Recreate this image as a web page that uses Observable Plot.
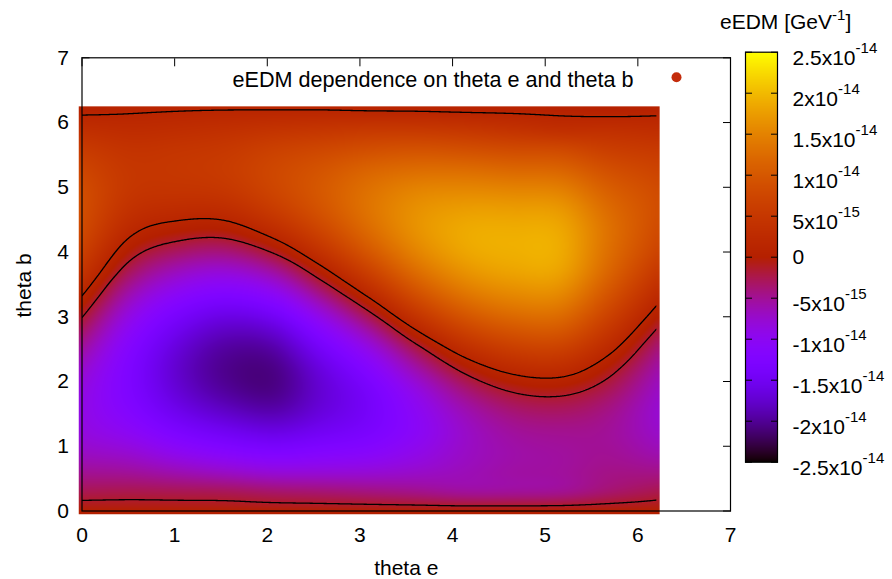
<!DOCTYPE html>
<html>
<head>
<meta charset="utf-8">
<script src="https://cdn.jsdelivr.net/npm/d3@7"></script>
<script src="https://cdn.jsdelivr.net/npm/@observablehq/plot@0.6"></script>
<style>
  html, body { margin: 0; padding: 0; background: #fff; }
  #wrap { position: relative; width: 892px; height: 579px; font-family: "Liberation Sans", Arial, sans-serif; color: #000; }
  #main { position: absolute; left: 0; top: 0; }
  #cb { position: absolute; left: 730px; top: 0; }
  #cbtitle { position: absolute; left: 720px; top: 10.5px; font-size: 21px; line-height: 21px; white-space: nowrap; }
  #cbtitle .sup { font-size: 15px; position: relative; top: -9px; }
  svg { overflow: visible; }
</style>
</head>
<body>
<div id="wrap">
  <div id="main"></div>
  <div id="cb"></div>
  <div id="cbtitle">eEDM [GeV<span class="sup">-1</span>]</div>
</div>
<script>
// ---- data ----
const thetaE = [0, 0.517, 1.033, 1.55, 2.067, 2.583, 3.1, 3.617, 4.133, 4.65, 5.167, 5.683, 6.2];
const thetaB = [0, 0.31, 0.62, 0.93, 1.24, 1.55, 1.86, 2.17, 2.48, 2.79, 3.1, 3.41, 3.72, 4.03, 4.34, 4.65, 4.96, 5.27, 5.58, 5.89, 6.2];
// eEDM in units of 1e-15 GeV^-1; one row per thetaE value, entries ordered by thetaB
const eEDM = [
  [0, -2.7, -5.1, -7.1, -8.4, -8.8, -8.5, -7.4, -5.5, -3.1, -0.5, 2.2, 4.7, 6.7, 8.1, 8.7, 8.5, 7.4, 5.7, 3.4, 0.7],
  [0, -2.6, -5.4, -8.0, -10.3, -11.9, -12.7, -12.7, -11.9, -10.3, -8.1, -5.5, -2.7, -0.1, 2.2, 3.9, 4.9, 5.0, 4.3, 2.8, 1.1],
  [0, -2.8, -6.4, -10.0, -13.1, -15.5, -17.0, -17.5, -16.9, -15.3, -12.9, -9.8, -6.4, -2.9, 0.2, 2.7, 4.4, 5.0, 4.6, 3.1, 1.3],
  [0, -3.0, -7.4, -11.6, -15.1, -17.9, -19.7, -20.3, -19.7, -17.9, -15.1, -11.5, -7.6, -3.6, 0.0, 2.9, 4.9, 5.7, 5.2, 3.6, 1.4],
  [0, -3.6, -8.3, -12.7, -16.3, -19.0, -20.5, -20.6, -19.4, -17.0, -13.5, -9.4, -5.1, -0.8, 2.9, 5.7, 7.3, 7.6, 6.6, 4.3, 1.4],
  [0, -3.9, -8.3, -12.0, -14.9, -16.7, -17.2, -16.5, -14.5, -11.5, -7.7, -3.5, 0.6, 4.4, 7.4, 9.4, 10.1, 9.5, 7.7, 4.8, 1.4],
  [0, -4.3, -8.1, -11.2, -13.3, -14.1, -13.7, -11.9, -9.1, -5.4, -1.2, 3.0, 6.9, 10.2, 12.4, 13.4, 13.1, 11.6, 8.8, 5.3, 1.2],
  [0, -4.7, -7.4, -9.3, -10.4, -10.1, -8.7, -6.0, -2.6, 1.5, 5.7, 9.6, 12.9, 15.3, 16.5, 16.4, 15.1, 12.6, 9.3, 5.3, 1.1],
  [0, -5.3, -6.5, -7.1, -7.2, -6.2, -4.0, -0.9, 2.8, 6.8, 10.7, 14.1, 16.7, 18.3, 18.6, 17.6, 15.5, 12.6, 8.9, 4.9, 0.9],
  [0, -5.2, -5.6, -5.8, -5.2, -3.7, -1.2, 2.1, 5.8, 9.6, 13.2, 16.1, 18.2, 19.1, 18.9, 17.6, 15.2, 12.0, 8.3, 4.2, 0.8],
  [0, -4.9, -5.3, -5.3, -4.7, -3.1, -0.7, 2.6, 6.2, 9.9, 13.2, 16.0, 18.0, 18.7, 18.4, 17.1, 14.7, 11.6, 8.0, 3.5, 0.6],
  [0, -3.6, -4.5, -5.0, -5.1, -4.4, -2.8, -0.6, 2.1, 4.9, 7.6, 10.0, 11.9, 12.9, 13.2, 12.5, 11.0, 8.9, 6.3, 3.5, 0.3],
  [0, -2.6, -4.6, -6.2, -7.2, -7.5, -6.9, -5.7, -3.9, -1.6, 0.9, 3.3, 5.5, 7.3, 8.3, 8.7, 8.3, 7.1, 5.4, 3.1, 0.7]
];
const contourLevels = [-1.45, 1.45];           // 1e-15 GeV^-1
const xTicks = [0, 1, 2, 3, 4, 5, 6, 7];
const yTicks = [0, 1, 2, 3, 4, 5, 6, 7];
const cbDomain = [-25, 25];                    // 1e-15 GeV^-1
const cbTicks = [-25, -20, -15, -10, -5, 0, 5, 10, 15, 20, 25];
const cbLabels = ["-2.5x10^-14", "-2x10^-14", "-1.5x10^-14", "-1x10^-14", "-5x10^-15", "0",
                  "5x10^-15", "1x10^-14", "1.5x10^-14", "2x10^-14", "2.5x10^-14"];
const legendLabel = "eEDM dependence on theta e and theta b";
const xLabel = "theta e";
const yLabel = "theta b";

// ---- table built from the arrays ----
const table = [];
thetaE.forEach((te, i) => thetaB.forEach((tb, j) => table.push({te, tb, v: eEDM[i][j]})));

// gnuplot default palette (rgbformulae 7,5,15)
const gnuplotPalette = t => {
  const r = Math.sqrt(t), g = t * t * t, b = Math.max(0, Math.sin(2 * Math.PI * t));
  return `rgb(${Math.round(255 * r)},${Math.round(255 * g)},${Math.round(255 * b)})`;
};

// smooth (Catmull-Rom bicubic) interpolator over the regular sample grid, for raster & contour
function bicubic(index, width, height, X, Y, V) {
  const key = v => Math.round(v * 1000) / 1000;
  const ux = Array.from(new Set(Array.from(index, i => key(X[i])))).sort((a, b) => a - b);
  const uy = Array.from(new Set(Array.from(index, i => key(Y[i])))).sort((a, b) => a - b);
  const nx = ux.length, ny = uy.length;
  const mx = new Map(ux.map((v, i) => [v, i])), my = new Map(uy.map((v, i) => [v, i]));
  const G = new Float64Array(nx * ny);
  for (const i of index) G[my.get(key(Y[i])) * nx + mx.get(key(X[i]))] = V[i];
  // grid value with linear extrapolation for the ghost ring around the grid
  const g = (i, j) => {
    if (i < 0) return 2 * g(0, j) - g(1, j);
    if (i >= nx) return 2 * g(nx - 1, j) - g(nx - 2, j);
    if (j < 0) return 2 * g(i, 0) - g(i, 1);
    if (j >= ny) return 2 * g(i, ny - 1) - g(i, ny - 2);
    return G[j * nx + i];
  };
  const E = new Float64Array((nx + 2) * (ny + 2));
  for (let j = -1; j <= ny; j++) for (let i = -1; i <= nx; i++) E[(j + 1) * (nx + 2) + (i + 1)] = g(i, j);
  const locate = (arr, n, u) => {
    if (u <= arr[0]) return [0, 0];
    if (u >= arr[n - 1]) return [n - 2, 1];
    let i = 0;
    while (i < n - 2 && u > arr[i + 1]) i++;
    return [i, (u - arr[i]) / (arr[i + 1] - arr[i])];
  };
  const weights = t => {
    const t2 = t * t, t3 = t2 * t;
    return [0.5 * (-t + 2 * t2 - t3), 0.5 * (2 - 5 * t2 + 3 * t3), 0.5 * (t + 4 * t2 - 3 * t3), 0.5 * (-t2 + t3)];
  };
  const colI = [], colW = [];
  for (let px = 0; px < width; px++) { const [i, t] = locate(ux, nx, px + 0.5); colI.push(i); colW.push(weights(t)); }
  const out = new Float64Array(width * height);
  for (let py = 0; py < height; py++) {
    const [j, s] = locate(uy, ny, py + 0.5);
    const wy = weights(s);
    for (let px = 0; px < width; px++) {
      const i = colI[px], wx = colW[px];
      let v = 0;
      for (let b = 0; b < 4; b++) {
        const row = (j + b) * (nx + 2);
        let acc = 0;
        for (let a = 0; a < 4; a++) acc += wx[a] * E[row + i + a];
        v += wy[b] * acc;
      }
      out[py * width + px] = v;
    }
  }
  return out;
}

const colorOpts = {type: "linear", domain: cbDomain, interpolate: gnuplotPalette, clamp: true};
const font = "'Liberation Sans', Arial, sans-serif";
const teMin = d3.min(thetaE), teMax = d3.max(thetaE), tbMin = d3.min(thetaB), tbMax = d3.max(thetaB);

const main = Plot.plot({
  width: 892, height: 579,
  marginLeft: 81.5, marginRight: 162, marginTop: 57.3, marginBottom: 68.5,
  style: {fontFamily: font, fontSize: "21px", color: "#000", background: "transparent", overflow: "visible"},
  x: {domain: [0, 7], label: null},
  y: {domain: [0, 7], label: null},
  color: colorOpts,
  marks: [
    Plot.axisX({anchor: "bottom", ticks: xTicks, tickSize: -8, tickPadding: 24.3, tickFormat: d => String(d), label: null}),
    Plot.axisX({anchor: "top", ticks: xTicks, tickSize: -8, tickFormat: () => "", label: null}),
    Plot.axisY({anchor: "left", ticks: yTicks, tickSize: -8, tickPadding: 21, tickFormat: d => String(d), label: null}),
    Plot.axisY({anchor: "right", ticks: yTicks, tickSize: -8, tickFormat: () => "", label: null}),
    Plot.raster(table, {
      x: "te", y: "tb", fill: "v", interpolate: bicubic, pixelSize: 1,
      x1: teMin - 0.035, x2: teMax + 0.035, y1: tbMin - 0.05, y2: tbMax + 0.05
    }),
    Plot.contour(table, {
      x: "te", y: "tb", value: "v", interpolate: bicubic, thresholds: contourLevels,
      x1: teMin - 0.1, x2: teMax + 0.1, y1: tbMin - 0.1, y2: tbMax + 0.1, pixelSize: 1,
      stroke: "#000", strokeWidth: 1.3, fill: "none"
    }),
    Plot.frame({stroke: "#000", strokeWidth: 1.2}),
    Plot.text([legendLabel], {text: d => d, frameAnchor: "top-right", textAnchor: "end", lineAnchor: "bottom", dx: -97, dy: 28.7, fontSize: 21.6}),
    Plot.dot([legendLabel], {frameAnchor: "top-right", dx: -54, dy: 19.4, r: 5, fill: "#c42c0c", stroke: "none"}),
    Plot.text([xLabel], {text: d => d, frameAnchor: "bottom", textAnchor: "middle", lineAnchor: "bottom", dy: 63.5}),
    Plot.text([yLabel], {text: d => d, frameAnchor: "left", textAnchor: "middle", lineAnchor: "bottom", rotate: -90, dx: -51.5, dy: 1})
  ]
});
document.getElementById("main").append(main);

// clip the contour lines to the sampled region
(function () {
  const ns = "http://www.w3.org/2000/svg";
  const xs = main.scale("x"), ys = main.scale("y");
  const defs = document.createElementNS(ns, "defs");
  const cp = document.createElementNS(ns, "clipPath");
  cp.setAttribute("id", "contour-clip");
  const r = document.createElementNS(ns, "rect");
  const x0 = xs.apply(teMin), x1 = xs.apply(teMax);
  const y0 = ys.apply(tbMax) - 1, y1 = ys.apply(tbMin);
  r.setAttribute("x", x0); r.setAttribute("y", y0);
  r.setAttribute("width", x1 - x0); r.setAttribute("height", y1 - y0);
  cp.append(r); defs.append(cp); main.prepend(defs);
  const g = main.querySelector('g[aria-label="contour"]');
  if (g) g.setAttribute("clip-path", "url(#contour-clip)");
})();

// colour bar
const cb = Plot.plot({
  width: 162, height: 579,
  marginLeft: 15, marginRight: 115, marginTop: 51.7, marginBottom: 117.3,
  style: {fontFamily: font, fontSize: "21px", color: "#000", background: "transparent", overflow: "visible"},
  x: {domain: [0, 1], axis: null},
  y: {domain: cbDomain, label: null},
  color: colorOpts,
  marks: [
    Plot.raster({fill: (x, y) => y, x1: 0, x2: 1, y1: cbDomain[0], y2: cbDomain[1], pixelSize: 1}),
    Plot.frame({stroke: "#000", strokeWidth: 1.2}),
    Plot.axisY({anchor: "left", ticks: cbTicks, tickSize: -7, tickFormat: () => "", label: null}),
    Plot.axisY({anchor: "right", ticks: cbTicks, tickSize: -7, tickPadding: 22, label: null,
                tickFormat: d => cbLabels[cbTicks.indexOf(d)]})
  ]
});
document.getElementById("cb").append(cb);

// superscripts in the colour-bar tick labels
(function () {
  const ns = "http://www.w3.org/2000/svg";
  cb.querySelectorAll("text").forEach(t => {
    const s = t.textContent;
    const i = s.indexOf("^");
    if (i < 0) return;
    t.textContent = "";
    const a = document.createElementNS(ns, "tspan");
    a.textContent = s.slice(0, i);
    const b = document.createElementNS(ns, "tspan");
    b.textContent = s.slice(i + 1);
    b.setAttribute("font-size", "15px");
    b.setAttribute("dy", "-12");
    t.append(a, b);
    t.setAttribute("y", "0.62em");
  });
})();
</script>
</body>
</html>
